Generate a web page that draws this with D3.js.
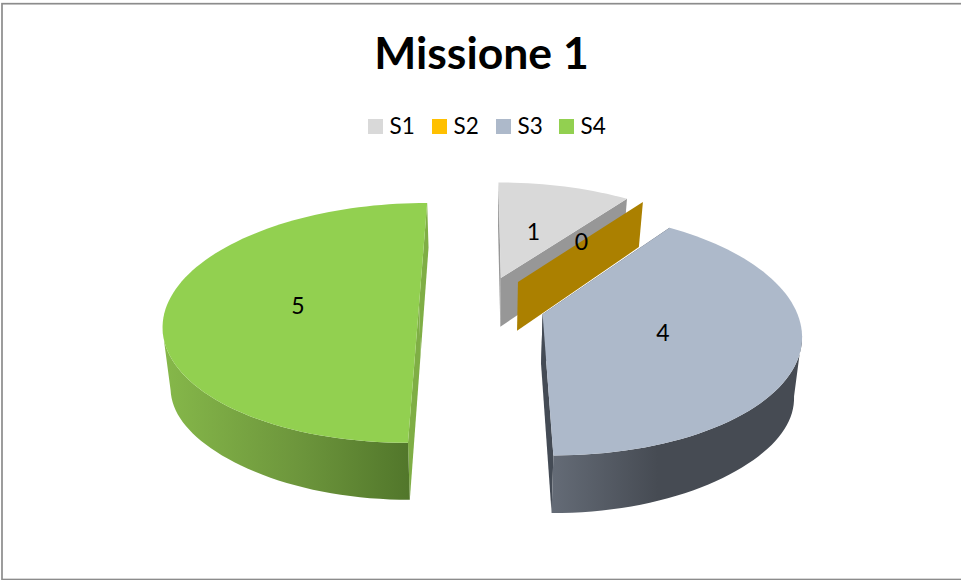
<!DOCTYPE html>
<html><head><meta charset="utf-8">
<script src="https://cdn.jsdelivr.net/npm/d3@7"></script>
<style>html,body{margin:0;padding:0;background:#fff;overflow:hidden}svg{display:block}text{font-family:Lato,"Open Sans",sans-serif;fill:#000}</style>
</head><body><div id="c"></div>
<script>
const title = "Missione 1";
const categories = ["S1","S2","S3","S4"];
const values = [1,0,4,5];
const topColors = ["#d9d9d9","#ffc000","#adb9ca","#92d050"];
const cutColors = ["#979797","#ab8000","#444b55","#7fae45"];
const rimStops = [
  [[0,"#979797"],[1,"#979797"]],
  [[0,"#ab8000"],[1,"#ab8000"]],
  [[0,"#646b76"],[0.42,"#464b53"],[1,"#464b53"]],
  [[0,"#86b84a"],[0.55,"#6d963c"],[1,"#52772b"]]
];
const legendX=[368,432,496,559];

const W=961,H=580;
const svg=d3.select("#c").append("svg").attr("width",W).attr("height",H);
const defs=svg.append("defs");
svg.append("rect").attr("x",2).attr("y",3.7).attr("width",975).attr("height",575.8)
   .attr("fill","#fff").attr("stroke","#8c8c8c").attr("stroke-width",1.7);

svg.append("text").attr("x",481.5).attr("y",69).attr("text-anchor","middle")
   .attr("font-size",44.5).attr("font-weight",700).text(title);

categories.forEach((c,i)=>{
  svg.append("rect").attr("x",legendX[i]).attr("y",119).attr("width",15).attr("height",15).attr("fill",topColors[i]);
  svg.append("text").attr("x",legendX[i]+21.5).attr("y",133.5).attr("font-size",22.5).text(c);
});

// perspective ground plane: pie in unit-radius world coordinates
const VX=482,VY=-482,K=787,INV=0.149,F=252,EXPL=0.25,INSET=0.975,LABEL_R=0.48;
const DROP0=10,DROP1=40,SIDE=10;
const RIM_FROM=100*Math.PI/180,RIM_TO=258*Math.PI/180; // silhouette angles of the disc
function proj(X,Z,down,bump){
  const s=1/(1+Z*INV);
  return [VX+F*X*s*(down?INSET:1), VY+K*s+(down?DROP0+DROP1*s+bump:0)];
}

const pie=d3.pie().sort(null).value(d=>d).startAngle(0).endAngle(2*Math.PI);
const arcs=pie(values);
const line=d3.line();
const STEP=Math.PI/90;
const sampleAngles=(a0,a1)=>{
  const n=Math.max(1,Math.ceil((a1-a0)/STEP));
  return d3.range(n+1).map(i=>a0+(a1-a0)*i/n);
};

const labels=[];
arcs.forEach((d,i)=>{
  const mid=(d.startAngle+d.endAngle)/2;
  const ox=EXPL*Math.sin(mid),oz=EXPL*Math.cos(mid);
  const pt=(a,r,down)=>proj(ox+r*Math.sin(a),oz+r*Math.cos(a),down,r*SIDE*Math.pow(Math.abs(Math.sin(a)),6));
  const g=svg.append("g");
  const s0=pt(d.startAngle,1,false),s1=pt(d.startAngle,1,true),e0=pt(d.endAngle,1,false),e1=pt(d.endAngle,1,true);
  const c0=pt(0,0,false),c1=pt(0,0,true);
  labels.push({v:d.value,p:pt(mid,LABEL_R,false)});

  g.append("path").attr("d",line([c0,s0,s1,c1])+"Z").attr("fill",cutColors[i]);
  if(d.value===0) return;
  g.append("path").attr("d",line([c0,e0,e1,c1])+"Z").attr("fill",cutColors[i]);

  const topEdge=sampleAngles(d.startAngle,d.endAngle).map(a=>pt(a,1,false));
  const rA=Math.max(d.startAngle,RIM_FROM),rB=Math.min(d.endAngle,RIM_TO);
  if(rB>rA){
    const vis=sampleAngles(rA,rB);
    const t=vis.map(a=>pt(a,1,false)),b=vis.map(a=>pt(a,1,true)).reverse();
    const xs=t.map(p=>p[0]);
    const id="rim"+i;
    const gr=defs.append("linearGradient").attr("id",id).attr("gradientUnits","userSpaceOnUse")
      .attr("x1",d3.min(xs)).attr("x2",d3.max(xs)).attr("y1",0).attr("y2",0);
    rimStops[i].forEach(([o,c])=>gr.append("stop").attr("offset",o).attr("stop-color",c));
    g.append("path").attr("d",line(t.concat(b))+"Z").attr("fill",`url(#${id})`);
  }
  g.append("path").attr("d",line([c0].concat(topEdge))+"Z").attr("fill",topColors[i]);
});
labels.forEach(l=>{
  svg.append("text").attr("x",l.p[0]).attr("y",l.p[1]).attr("text-anchor","middle")
     .attr("dominant-baseline","central").attr("font-size",23).text(l.v);
});
</script></body></html>
